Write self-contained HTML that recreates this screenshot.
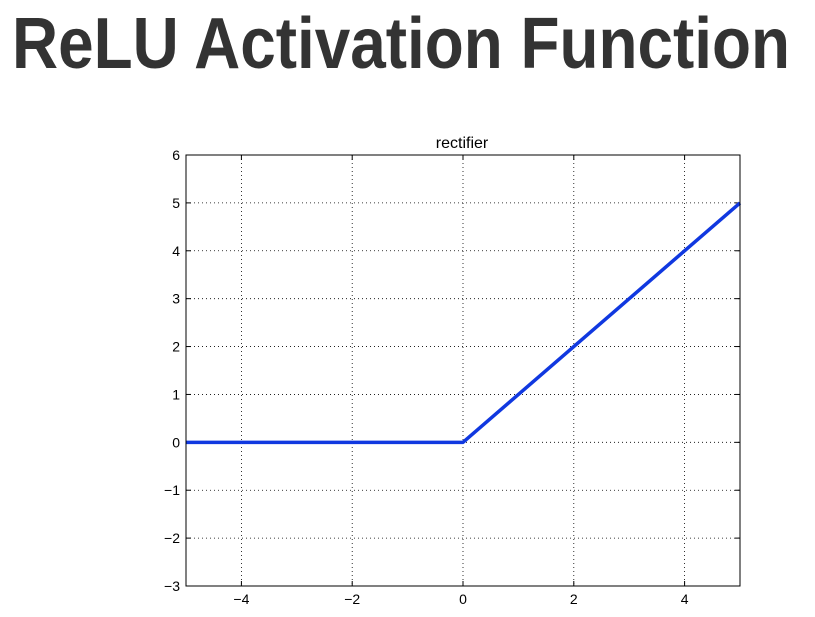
<!DOCTYPE html>
<html><head><meta charset="utf-8"><style>
body{margin:0;background:#fff;width:815px;height:617px;overflow:hidden}
svg{display:block}
text{font-family:"Liberation Sans",sans-serif}
</style></head><body>
<svg width="815" height="617">
<text x="12" y="68" font-size="72" font-weight="bold" fill="#333" textLength="778" lengthAdjust="spacingAndGlyphs">ReLU Activation Function</text>
<text x="462" y="148" font-size="16" text-anchor="middle" fill="#000">rectifier</text>
<g id="grid"></g>
<g id="axes"></g>
<polyline id="line" fill="none" stroke="#1038e0" stroke-width="3.5" stroke-linejoin="round"/>
<rect x="186" y="155" width="554" height="431" fill="none" stroke="#000" stroke-width="1"/>
</svg>
<script>
const xTicks=[-4,-2,0,2,4];
const yTicks=[-3,-2,-1,0,1,2,3,4,5,6];
const xs=[-5,0,5];
const ys=[0,0,5];
const L=186,R=740,T=155,B=586,xmin=-5,xmax=5,ymin=-3,ymax=6;
const sx=v=>L+(v-xmin)/(xmax-xmin)*(R-L);
const sy=v=>B-(v-ymin)/(ymax-ymin)*(B-T);
const NS="http://www.w3.org/2000/svg";
const g=document.getElementById('grid'),a=document.getElementById('axes');
function mk(t,at,p){const e=document.createElementNS(NS,t);for(const k in at)e.setAttribute(k,at[k]);p.appendChild(e);return e;}
const fmt=v=>v<0?'\u2212'+(-v):''+v;
xTicks.forEach(v=>{const x=sx(v);
const gl=mk('line',{x1:x,x2:x,y1:T,y2:B,stroke:'#000','stroke-dasharray':'1,3','stroke-width':0.8},g);


mk('line',{x1:x,x2:x,y1:B,y2:B-5,stroke:'#000'},a);
mk('line',{x1:x,x2:x,y1:T,y2:T+5,stroke:'#000'},a);
const t=mk('text',{x:x,y:B+18,'font-size':14,'text-anchor':'middle'},a);t.textContent=fmt(v);

});
yTicks.forEach(v=>{const y=sy(v);
if(v>ymin&&v<ymax){const gl=mk('line',{x1:L,x2:R,y1:y,y2:y,stroke:'#000','stroke-dasharray':'1,3','stroke-width':0.8},g);

}
mk('line',{x1:L,x2:L+5,y1:y,y2:y,stroke:'#000'},a);
mk('line',{x1:R,x2:R-5,y1:y,y2:y,stroke:'#000'},a);
const t=mk('text',{x:L-6,y:y+5,'font-size':14,'text-anchor':'end'},a);t.textContent=fmt(v);

});
document.getElementById('line').setAttribute('points',xs.map((x,i)=>sx(x)+','+sy(ys[i])).join(' '));
</script>
</body></html>
